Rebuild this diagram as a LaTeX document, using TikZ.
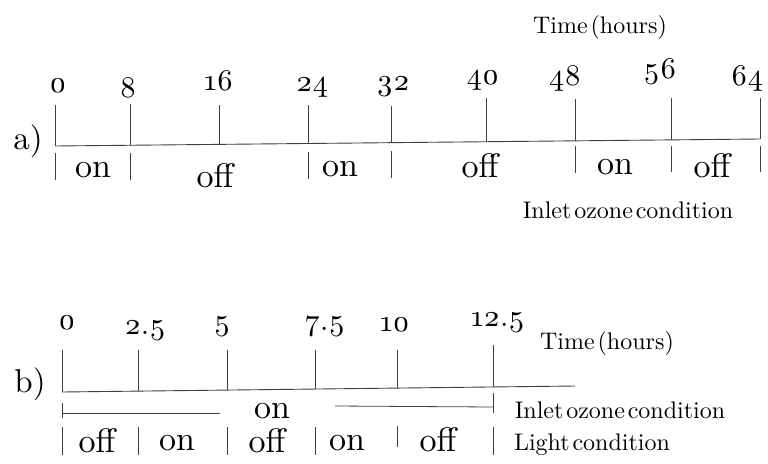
\documentclass[tikz,border=0pt]{standalone}
\usepackage{fontspec}
\setmainfont{lmroman10-regular.otf}
\newcommand{\osn}[1]{\oldstylenums{#1}}
\newcommand{\tightsp}{\spaceskip=0.12em\relax}
\tikzset{
  axis/.style={draw=black!75, line width=0.9pt},
  tick/.style={draw=black!75, line width=0.8pt},
  num/.style={inner sep=0pt, font=\fontsize{30}{34}\selectfont},
  state/.style={inner sep=0pt, font=\fontsize{34}{38}\selectfont},
  lab/.style={inner sep=0pt, font=\fontsize{24}{28}\selectfont\tightsp},
  part/.style={inner sep=0pt, font=\fontsize{33}{37}\selectfont},
}
\begin{document}
\begin{tikzpicture}[x=1pt,y=-1pt]
\useasboundingbox[fill=white] (0,0) rectangle (768,463);
% ---------- part a ----------
\node[part] (pa) at (28,141) {a)};
\node[lab] (ta) at (600,27) {Time (hours)};
\coordinate (a0) at (55,146);
\coordinate (a64) at (760,139);
\draw[axis] (a0) -- (a64);
% upper ticks
\foreach \x/\t/\n/\nx/\ny/\b in {
  55/105/0/58/86/146, 130/104/8/128/88/145.3, 219/105/16/219/81/144.4,
  308/105/24/312/87/143.5, 391/106/32/393/87/142.7, 486/98/40/483/80/141.7,
  575/99/48/565/78/140.9, 671/98/56/660/72/139.9, 760/98/64/747/78/139}{
  \draw[tick] (\x,\t) -- (\x,\b);
  \node[num] (an\n) at (\nx,\ny) {\osn{\n}};
}
% lower ticks
\foreach \x/\t/\b in {55/153/180, 130/153/180, 308/152/179, 391/151/178,
  575/146/173, 671/146/172, 760/146/172}{
  \draw[tick] (\x,\t) -- (\x,\b);
}
\node[state] (as1) at (93,170) {on};
\node[state] (as2) at (215,176) {off};
\node[state] (as3) at (340,169) {on};
\node[state] (as4) at (480,166) {off};
\node[state] (as5) at (615,167) {on};
\node[state] (as6) at (712,166) {off};
\node[lab] (ia) at (628,210) {Inlet ozone condition};
% ---------- part b ----------
\node[part] (pb) at (30,384) {b)};
\node[lab] (tb) at (607,343) {Time (hours)};
\coordinate (b0) at (62,392);
\coordinate (bend) at (575,386);
\draw[axis] (b0) -- (bend);
\foreach \x/\t/\b in {62/350/392, 138/350/391, 227/350/390, 315/350/389,
  397/350/388, 493/345/387}{
  \draw[tick] (\x,\t) -- (\x,\b);
}
\node[num] (bn0) at (67,323) {\osn{0}};
\node[num] (bn1) at (145,331) {\osn{2}.\osn{5}};
\node[num] (bn2) at (222,327) {\osn{5}};
\node[num] (bn3) at (325,326) {\osn{7}.\osn{5}};
\node[num] (bn4) at (395,325) {\osn{10}};
\node[num] (bn5) at (498,323) {\osn{12}.\osn{5}};
% inlet ozone line
\coordinate (oz0) at (62,413);
\coordinate (oz1) at (220,413);
\coordinate (oz2) at (335,406);
\coordinate (oz3) at (493,407);
\draw[tick] (62,403) -- (62,418);
\draw[tick] (oz0) -- (oz1);
\draw[tick] (oz2) -- (oz3);
\draw[tick] (493,393) -- (493,413);
\node[state] (bon) at (272,411) {on};
\node[lab] (ib) at (620,410) {Inlet ozone condition};
% light ticks
\foreach \x/\t/\b in {62/427/455, 138/427/455, 227/427/455, 315/427/455,
  397/426/447, 493/427/455}{
  \draw[tick] (\x,\t) -- (\x,\b);
}
\node[state] (bl1) at (97,441) {off};
\node[state] (bl2) at (177,443) {on};
\node[state] (bl3) at (267,441) {off};
\node[state] (bl4) at (347,443) {on};
\node[state] (bl5) at (438,440) {off};
\node[lab] (lb) at (592,445) {Light condition};
\end{tikzpicture}
\end{document}
